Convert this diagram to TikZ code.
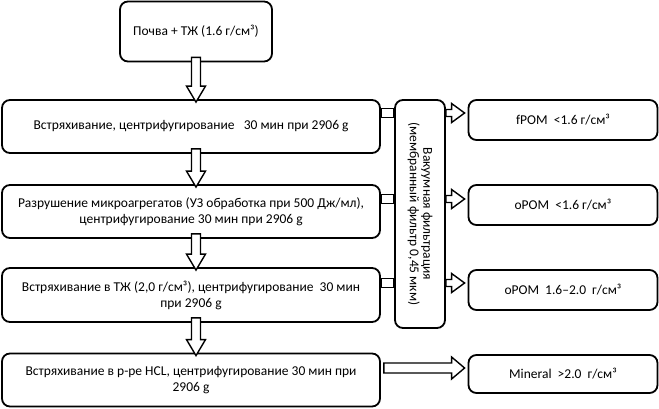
\documentclass[tikz,border=0pt]{standalone}
\usepackage{fontspec}
\setmainfont{Carlito}
\usetikzlibrary{calc}
\tikzset{
  box/.style={draw=black, line width=1.8pt, rounded corners=8pt, inner sep=0pt, align=center, font=\fontsize{13.5}{16}\selectfont},
  arr/.style={draw=black, line width=1.4pt, fill=white, line join=miter}
}
% hollow down arrow: from node #1 to node #2 at x of the top node
\newcommand\hdown[2]{%
  \path let \p1=($(top.south |- #1.south)+(0,-5)$), \p2=($(top.south |- #2.north)+(0,3)$) in
    [arr] (\x1-4.5pt,\y1) -- (\x1+4.5pt,\y1) -- (\x1+4.5pt,\y2+16pt) -- (\x1+9.5pt,\y2+16pt)
    -- (\x1,\y2) -- (\x1-9.5pt,\y2+16pt) -- (\x1-4.5pt,\y2+16pt) -- cycle;}
% hollow right arrow from coordinate #1 to coordinate #2 (same y); #3 shaft half, #4 head half
\newcommand\hright[4]{%
  \path let \p1=(#1), \p2=(#2) in
    [arr] (\x1,\y1-#3) -- (\x2-13pt,\y1-#3) -- (\x2-13pt,\y1-#4) -- (\x2,\y1)
    -- (\x2-13pt,\y1+#4) -- (\x2-13pt,\y1+#3) -- (\x1,\y1+#3) -- cycle;}
\begin{document}
\begin{tikzpicture}[x=1pt,y=-1pt]
\useasboundingbox (0,0) rectangle (659,408);
\node[box, minimum width=152pt, minimum height=60pt] (top) at (196,31.5) {Почва + ТЖ (1.6 г/см³)};
\node[box, minimum width=378pt, minimum height=53pt] (b1) at (191,126.5) {Встряхивание, центрифугирование \ \ 30 мин при 2906 g};
\node[box, minimum width=378pt, minimum height=53pt] (b2) at (191,211.5) {Разрушение микроагрегатов (УЗ обработка при 500 Дж/мл),\\ центрифугирование 30 мин при 2906 g};
\node[box, minimum width=378pt, minimum height=54pt] (b3) at (191,295) {Встряхивание в ТЖ (2,0 г/см³), центрифугирование \ 30 мин\\ при 2906 g};
\node[box, minimum width=378pt, minimum height=53pt] (b4) at (191,380) {Встряхивание в р-ре HCL, центрифугирование 30 мин при\\ 2906 g};
\node[box, minimum width=50pt, minimum height=228pt] (vb) at (420,214) {};
\node[rotate=-90, align=center, inner sep=0pt, font=\fontsize{13.5}{13.5}\selectfont] (vbt) at (vb.center) {Вакуумная фильтрация\\(мембранный фильтр 0,45 мкм)};
\node[box, minimum width=189pt, minimum height=40pt] (ra) at (563,120) {fPOM \ <1.6 г/см³};
\node[box, minimum width=189pt, minimum height=40pt] (rb) at (563,205) {oPOM \ <1.6 г/см³};
\node[box, minimum width=189pt, minimum height=40pt] (rc) at (563,290) {oPOM \ 1.6–2.0 \ г/см³};
\node[box, minimum width=189pt, minimum height=38pt] (rd) at (563,374) {Mineral \ >2.0 \ г/см³};
\hdown{top}{b1}
\hdown{b1}{b2}
\hdown{b2}{b3}
\hdown{b3}{b4}
% small connectors
\foreach \b/\r/\y in {b1/ra/113, b2/rb/199, b3/rc/283}{
  \path[arr] (\b.east |- 0,\y-4.5) rectangle (vb.west |- 0,\y+4.5);
  \coordinate (s\b) at (vb.east |- 0,\y);
  \coordinate (e\b) at (\r.west |- 0,\y);
  \hright{s\b}{$(e\b)+(-3,0)$}{3.5pt}{9.5pt}
}
\coordinate (s4) at ($(b4.east |- 0,368)+(3,0)$);
\coordinate (e4) at ($(rd.west |- 0,368)+(-3,0)$);
\hright{s4}{e4}{5pt}{11pt}
\end{tikzpicture}
\end{document}
